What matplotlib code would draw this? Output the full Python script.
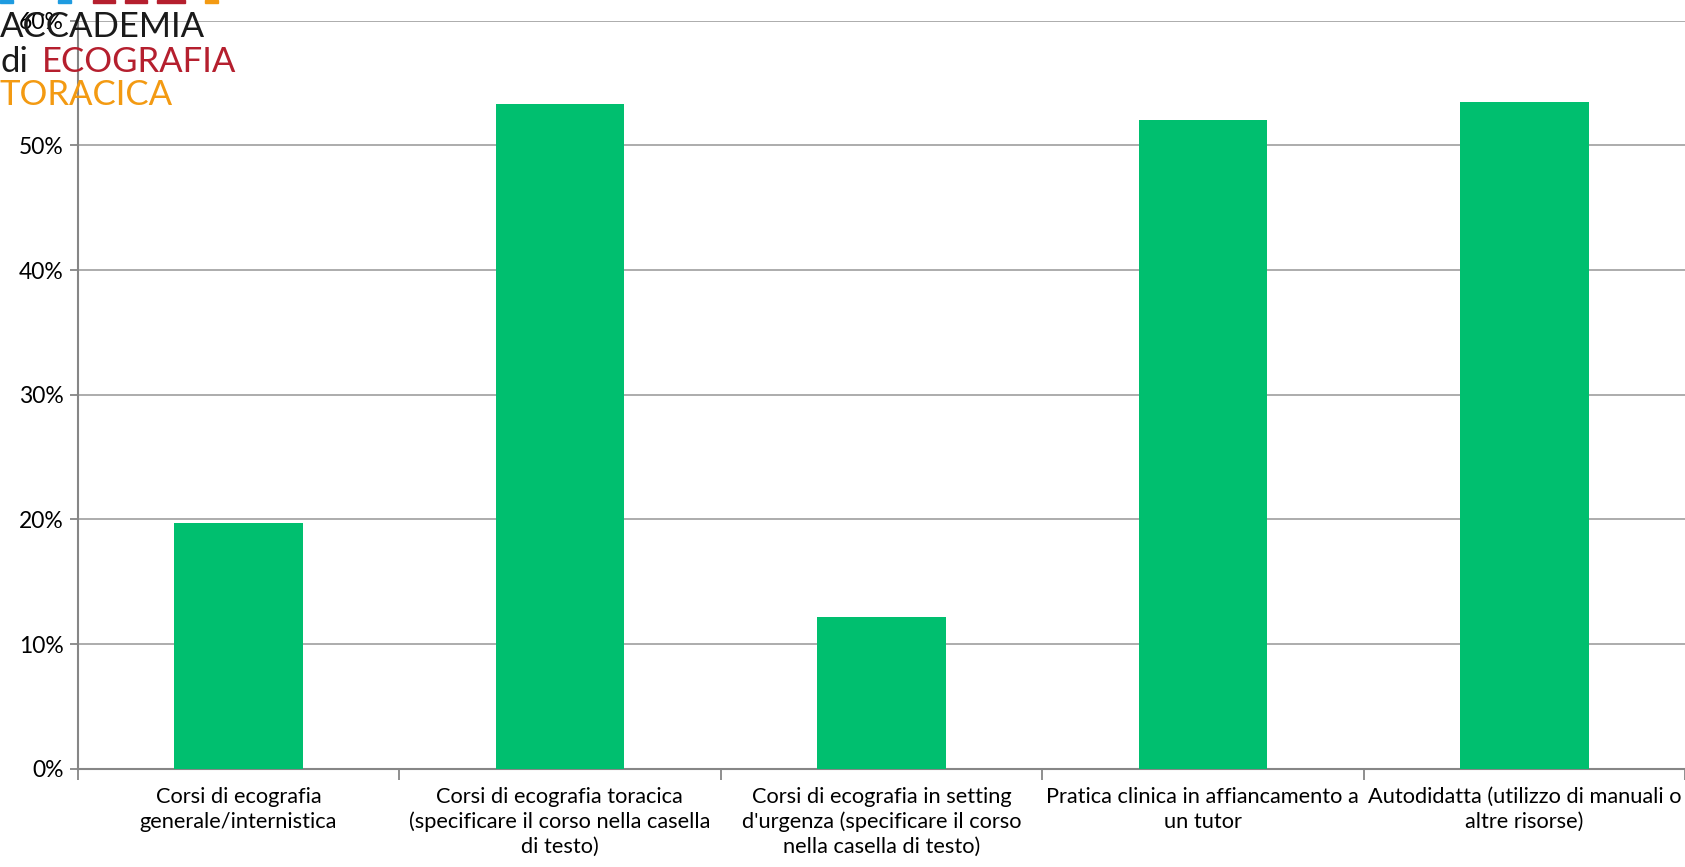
import matplotlib
matplotlib.use("Agg")
import matplotlib.pyplot as plt
from matplotlib.ticker import FuncFormatter, FixedLocator
from matplotlib.patches import Rectangle

categories = [
    "Corsi di ecografia\ngenerale/internistica",
    "Corsi di ecografia toracica\n(specificare il corso nella casella\ndi testo)",
    "Corsi di ecografia in setting\nd'urgenza (specificare il corso\nnella casella di testo)",
    "Pratica clinica in affiancamento a\nun tutor",
    "Autodidatta (utilizzo di manuali o\naltre risorse)",
]
values = [0.197, 0.533, 0.122, 0.520, 0.535]
yticks = [0, 0.1, 0.2, 0.3, 0.4, 0.5, 0.6]

plt.rcParams['font.family'] = ['Lato', 'DejaVu Sans']

fig = plt.figure(figsize=(16.85, 8.67), dpi=100)
ax = fig.add_axes([0.0461, 0.1134, 0.9539, 0.8627])

x = list(range(len(values)))
ax.bar(x, values, width=0.4, color="#00BF6F", zorder=3)

ax.set_xlim(-0.5, len(values) - 0.5)
ax.set_ylim(0, 0.6)
ax.yaxis.set_major_locator(FixedLocator(yticks))
ax.yaxis.set_major_formatter(FuncFormatter(lambda v, p: f"{v*100:.0f}%"))
ax.grid(axis="y", color="#A6A6A6", linewidth=1.3, zorder=0)

ax.set_xticks(x)
ax.set_xticklabels(categories, fontsize=15.7, linespacing=1.3, color="#000000")
ax.tick_params(axis="x", length=0, pad=13)
ax.set_xticks([i - 0.5 for i in range(len(values) + 1)], minor=True)
ax.tick_params(axis="x", which="minor", length=8, color="#868686", width=1.3)
ax.tick_params(axis="y", labelsize=16.5, length=6, color="#868686", width=1.3, pad=4)

for side in ["top", "right"]:
    ax.spines[side].set_visible(False)
for side in ["left", "bottom"]:
    ax.spines[side].set_color("#868686")
    ax.spines[side].set_linewidth(1.5)

# logo (text-based)
fig.text(0.0, 0.9573, "ACCADEMIA", fontsize=25, color="#1a1a1a", ha="left", va="baseline", zorder=10)
fig.text(0.0, 0.9170, "di", fontsize=25, color="#1a1a1a", ha="left", va="baseline", zorder=10)
fig.text(0.0249, 0.9170, "ECOGRAFIA", fontsize=25, color="#B51F2E", ha="left", va="baseline", zorder=10)
fig.text(0.0, 0.8789, "TORACICA", fontsize=25, color="#F39A12", ha="left", va="baseline", zorder=10)
for x0, w, c in [(0, 13, "#1E9BE0"), (58, 13, "#1E9BE0"), (93, 22, "#B51F2E"),
                 (125, 22, "#B51F2E"), (157, 28, "#B51F2E"), (205, 13, "#F39A12")]:
    fig.patches.append(Rectangle((x0 / 1685, 1 - 3 / 867), w / 1685, 3 / 867,
                                 transform=fig.transFigure, color=c, zorder=10))

fig.savefig("out.png", dpi=100)
